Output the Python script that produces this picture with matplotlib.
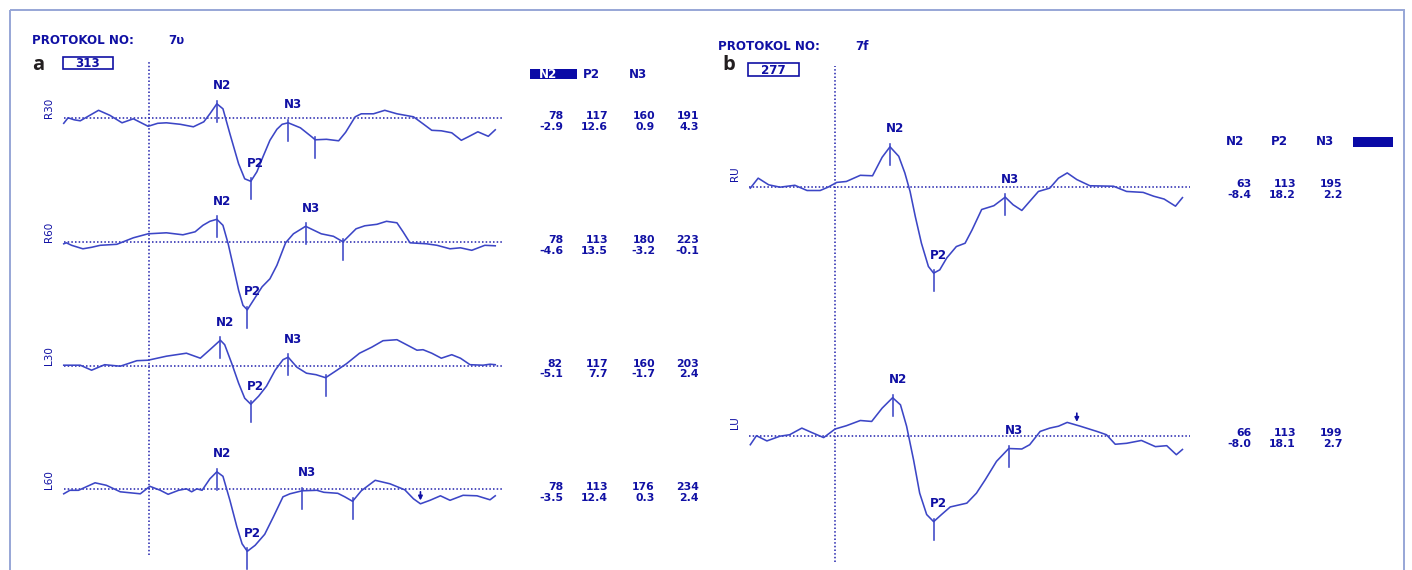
import numpy as np
import matplotlib
matplotlib.use("Agg")
import matplotlib.pyplot as plt
from matplotlib.patches import Rectangle

# marked peaks: latency (ms) and amplitude (uV), columns N2 / P2 / N3 / extra
peak_names = ["N2", "P2", "N3"]

channels_a = ["R30", "R60", "L30", "L60"]
lat_a = [[78, 117, 160, 191], [78, 113, 180, 223], [82, 117, 160, 203], [78, 113, 176, 234]]
amp_a = [[-2.9, 12.6, 0.9, 4.3], [-4.6, 13.5, -3.2, -0.1], [-5.1, 7.7, -1.7, 2.4], [-3.5, 12.4, 0.3, 2.4]]

channels_b = ["RU", "LU"]
lat_b = [[63, 113, 195], [66, 113, 199]]
amp_b = [[-8.4, 18.2, 2.2], [-8.0, 18.1, 2.7]]

protocol_a, protocol_b = "7υ", "7f"
sweeps_a, sweeps_b = "313", "277"

# averaged waveforms, time in ms, amplitude in uV (negative plotted up)
r30_t = [-98, -93, -86, -79, -68, -58, -45, -31, -18, -1, 10, 20, 36, 51, 63, 70, 78, 85, 93, 103, 110, 117,
         124, 131, 139, 147, 153, 160, 174, 187, 191, 204, 218, 226, 237, 244, 258, 271, 285, 304, 315, 325,
         336, 348, 359, 367, 378, 390, 398]
r30_v = [1.0, -0.1, 0.3, 0.5, -0.6, -1.6, -0.6, 0.9, 0.1, 1.6, 1.0, 0.9, 1.2, 1.7, 0.7, -0.9, -2.9, -1.9, 3.1,
         9.1, 12.1, 12.6, 10.7, 7.7, 4.4, 2.2, 1.2, 0.9, 1.9, 3.7, 4.3, 4.2, 4.5, 2.8, -0.3, -0.9, -0.9, -1.6,
         -0.9, -0.3, 1.1, 2.4, 2.5, 2.9, 4.4, 3.7, 2.7, 3.6, 2.3]

r60_t = [-98, -95, -89, -76, -66, -56, -37, -18, -1, 20, 39, 53, 62, 70, 78, 85, 91, 97, 103, 108, 113, 120,
         130, 139, 147, 157, 166, 180, 198, 212, 223, 238, 248, 262, 273, 285, 292, 300, 319, 331, 346, 358,
         371, 386, 398]
r60_v = [0.3, 0.1, 0.6, 1.3, 1.0, 0.6, 0.4, -0.9, -1.7, -1.9, -1.5, -2.1, -3.4, -4.2, -4.6, -3.4, 0.3, 4.9,
         9.6, 12.6, 13.5, 11.6, 8.9, 7.3, 4.6, 0.1, -1.7, -3.2, -1.7, -1.2, -0.1, -2.7, -3.3, -3.6, -4.2, -3.9,
         -2.1, 0.1, 0.3, 0.6, 1.3, 1.1, 1.6, 0.6, 0.7]

l30_t = [-98, -79, -66, -51, -33, -14, -1, 20, 43, 59, 70, 82, 87, 95, 103, 110, 117, 126, 135, 145, 154, 160,
         170, 181, 192, 203, 216, 227, 242, 256, 269, 285, 296, 308, 315, 325, 336, 348, 358, 369, 384, 392, 398]
l30_v = [-0.1, -0.1, 0.9, -0.2, 0.1, -1.0, -1.1, -1.9, -2.5, -1.5, -3.2, -5.1, -4.2, -0.5, 3.5, 6.5, 7.7, 6.1,
         4.1, 0.9, -1.2, -1.7, 0.3, 1.5, 1.8, 2.4, 0.9, -0.4, -2.5, -3.7, -5.0, -5.2, -4.2, -3.1, -3.2, -2.5,
         -1.5, -2.2, -1.5, -0.2, -0.1, -0.3, -0.2]

l60_t = [-98, -91, -81, -62, -49, -33, -10, 1, 13, 22, 34, 43, 49, 55, 61, 70, 78, 85, 93, 101, 107, 113, 122,
         133, 143, 154, 162, 176, 193, 201, 217, 225, 234, 244, 260, 277, 294, 304, 312, 323, 335, 346, 361,
         377, 392, 398]
l60_v = [0.9, 0.2, 0.2, -1.3, -0.8, 0.5, 0.9, -0.6, 0.2, 1.0, 0.2, -0.1, 0.5, -0.1, 0.2, -2.1, -3.5, -2.6, 2.2,
         7.5, 10.9, 12.4, 11.2, 9.0, 5.5, 1.5, 0.9, 0.3, 0.2, 0.6, 0.8, 1.5, 2.4, 0.3, -1.8, -1.1, 0.1, 1.9,
         2.9, 2.2, 1.3, 2.2, 1.2, 1.3, 2.1, 1.3]

ru_t = [-97, -88, -76, -63, -46, -32, -17, -8, 2, 13, 29, 43, 54, 63, 73, 80, 86, 92, 99, 107, 113, 120, 128,
        139, 149, 157, 168, 182, 195, 204, 214, 223, 233, 246, 256, 266, 277, 292, 319, 334, 353, 365, 377,
        390, 398]
ru_v = [0.3, -1.8, -0.4, 0.1, -0.3, 0.8, 0.8, 0.1, -0.9, -1.1, -2.4, -2.3, -6.2, -8.4, -6.4, -2.9, 1.0, 6.3,
        11.9, 16.8, 18.2, 17.5, 15.0, 12.6, 11.9, 9.1, 4.8, 4.0, 2.2, 3.8, 5.0, 3.1, 1.0, 0.3, -1.8, -2.9,
        -1.5, -0.2, -0.1, 1.0, 1.2, 2.0, 2.6, 4.1, 2.3]

lu_t = [-97, -90, -78, -63, -52, -38, -27, -13, 0, 13, 29, 42, 54, 66, 75, 82, 90, 97, 105, 113, 122, 132, 151,
        162, 172, 185, 199, 214, 223, 235, 246, 256, 266, 281, 300, 311, 321, 334, 351, 367, 380, 391, 398]
lu_v = [1.9, 0.0, 1.1, 0.1, -0.2, -1.6, -0.7, 0.4, -1.4, -2.1, -3.2, -3.0, -5.8, -8.0, -6.5, -2.0, 5.1, 12.1,
        16.6, 18.1, 16.6, 15.0, 14.2, 12.1, 9.3, 5.4, 2.7, 2.8, 1.9, -0.9, -1.6, -2.0, -2.8, -2.0, -0.9, -0.2,
        1.8, 1.6, 1.0, 2.3, 2.1, 4.0, 2.9]

traces = {"R30": (r30_t, r30_v), "R60": (r60_t, r60_v), "L30": (l30_t, l30_v), "L60": (l60_t, l60_v),
          "RU": (ru_t, ru_v), "LU": (lu_t, lu_v)}
# latency of the small arrow mark
arrows = {"L60": 312, "LU": 277}

W, H = 1412, 570
TXT = "#1010a4"
LINE = "#3c46c6"
DOT = "#2020ac"
DOTS = (0, (1.0, 1.4))
FS = 8.6      # printed labels
FS_TAB = 7.8  # latency / amplitude readout, rows sit tight together

plt.rcParams["font.family"] = ["DejaVu Sans"]

fig = plt.figure(figsize=(W / 100, H / 100), dpi=100)
fig.patch.set_facecolor("white")

# pixel canvas for the frame and all the printed text
canvas = fig.add_axes([0, 0, 1, 1])
canvas.set_xlim(0, W)
canvas.set_ylim(H, 0)
canvas.axis("off")
canvas.add_patch(Rectangle((9.5, 10), 1394, 570, fill=False, ec="#97a6d6", lw=1.4))


def small(x, y, s, **kw):
    kw.setdefault("color", TXT)
    kw.setdefault("fontsize", FS)
    kw.setdefault("fontweight", "bold")
    canvas.text(x, y, s, **kw)


def draw_panel(chans, bases, lats, amps, zero_px, ms_px, uv_px, cols, rows, name_pos, vspan):
    x_left = zero_px - 100 * ms_px
    width = 500 * ms_px
    # stimulus onset line through the whole column of traces
    pax = fig.add_axes([x_left / W, 1 - vspan[1] / H, width / W, (vspan[1] - vspan[0]) / H])
    pax.set_xlim(-100, 400)
    pax.set_ylim(0, 1)
    pax.axis("off")
    pax.axvline(0, color=DOT, lw=1.1, ls=DOTS)

    for i, ch in enumerate(chans):
        base = bases[i]
        top, bot = base - 16 * uv_px, base + 22 * uv_px
        ax = fig.add_axes([x_left / W, 1 - bot / H, width / W, (bot - top) / H])
        ax.set_xlim(-100, 400)
        ax.set_ylim(22, -16)
        ax.axis("off")
        ax.patch.set_alpha(0)

        t, v = traces[ch]
        ax.plot([-98, 407], [0, 0], color=DOT, lw=1.1, ls=DOTS, clip_on=False)
        ax.plot(t, v, color=LINE, lw=1.15, clip_on=False)

        for j, (lt, a) in enumerate(zip(lats[i], amps[i])):
            ax.plot([lt, lt], [a - 3 / uv_px, a + 18 / uv_px], color=LINE, lw=1.15, clip_on=False)
            if j < len(peak_names):
                ax.annotate(peak_names[j], (lt, a), xytext=(5, 14.5), textcoords="offset pixels",
                            ha="center", va="baseline", fontsize=FS, fontweight="bold", color=TXT)

        if ch in arrows:
            ta = arrows[ch]
            va = np.interp(ta, t, v)
            ax.annotate("", xy=(ta, va), xytext=(0, 12), textcoords="offset pixels",
                        arrowprops=dict(arrowstyle="-|>", color=TXT, lw=1.2, mutation_scale=6,
                                        shrinkA=0, shrinkB=2.4))

        # channel name at the left of the trace
        canvas.text(name_pos[0], base + name_pos[1], ch, rotation=90, ha="center", va="center",
                    fontsize=7.5, color=TXT)

        # latency / amplitude readout
        for j, (lt, a) in enumerate(zip(lats[i], amps[i])):
            small(cols[j], base + rows[0], str(lt), ha="right", va="baseline", fontsize=FS_TAB)
            small(cols[j], base + rows[1], f"{a:.1f}", ha="right", va="baseline", fontsize=FS_TAB)


# panel a
canvas.text(32, 70, "a", fontsize=14.5, fontweight="bold", color="#231f20", family=["Open Sans", "DejaVu Sans"])
small(32, 44, "PROTOKOL NO:", ha="left", va="baseline")
small(168, 44, protocol_a, ha="left", va="baseline")
canvas.add_patch(Rectangle((62.7, 56.7), 50, 12.6, fill=False, ec=TXT, lw=1.2))
small(87.7, 67, sweeps_a, ha="center", va="baseline")
canvas.add_patch(Rectangle((530, 69), 47, 10.3, color="#0a0aa6", lw=0))
for name, xc in zip(peak_names, [547.5, 591.7, 637.8]):
    small(xc, 77.5, name, ha="center", va="baseline", color="white" if name == "N2" else TXT)

draw_panel(channels_a, [118.3, 242.3, 365.7, 489.3], lat_a, amp_a, 149, 0.87, 5.0,
           [563, 608, 655, 699], [1.0, 11.5], (49, -10), (60, 555))

# panel b
canvas.text(722, 70.5, "b", fontsize=14.5, fontweight="bold", color="#231f20", family=["Open Sans", "DejaVu Sans"])
small(718, 50, "PROTOKOL NO:", ha="left", va="baseline")
small(855, 50, protocol_b, ha="left", va="baseline")
canvas.add_patch(Rectangle((748.3, 63.3), 51, 12.4, fill=False, ec=TXT, lw=1.2))
small(773.8, 73.5, sweeps_b, ha="center", va="baseline")
for name, xc in zip(peak_names, [1234.7, 1279.7, 1325]):
    small(xc, 144.7, name, ha="center", va="baseline")
canvas.add_patch(Rectangle((1353.3, 136.7), 40, 10, color="#0a0aa6", lw=0))

draw_panel(channels_b, [186.7, 435.7], lat_b, amp_b, 835, 0.873, 4.75,
           [1251.7, 1296, 1342.3], [0.5, 11.0], (735, -13.5), (66, 562))

fig.savefig("out.png", dpi=100, facecolor="white")
